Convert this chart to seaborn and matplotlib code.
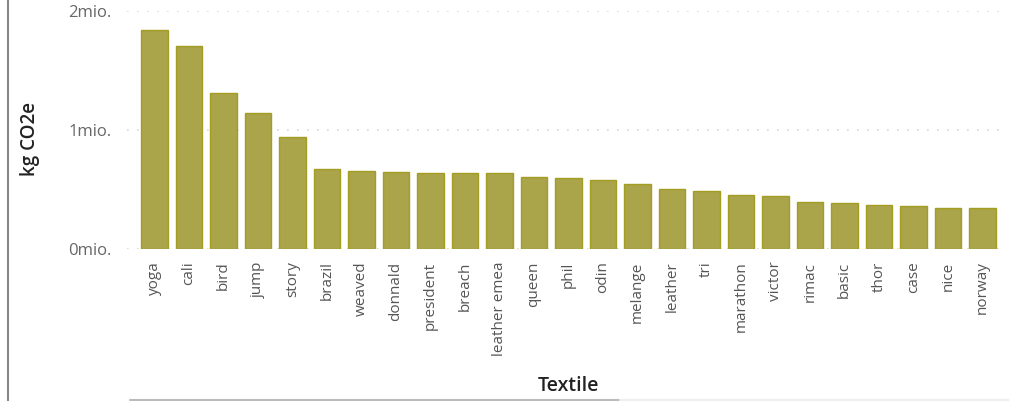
import matplotlib
matplotlib.use("Agg")
import matplotlib.pyplot as plt
from matplotlib.ticker import FuncFormatter
from matplotlib.lines import Line2D
import seaborn as sns
import pandas as pd

categories = ["yoga", "cali", "bird", "jump", "story", "brazil", "weaved", "donnald",
              "president", "breach", "leather emea", "queen", "phil", "odin", "melange",
              "leather", "tri", "marathon", "victor", "rimac", "basic", "thor", "case",
              "nice", "norway"]
values = [1.84, 1.70, 1.313, 1.143, 0.944, 0.672, 0.658, 0.644, 0.641, 0.639, 0.636,
          0.602, 0.599, 0.576, 0.544, 0.504, 0.485, 0.456, 0.445, 0.397, 0.389, 0.370,
          0.364, 0.347, 0.342]
yticks = [0, 1, 2]

df = pd.DataFrame({"Textile": categories, "kg CO2e": [v * 1e6 for v in values]})

sns.set_theme(style="white")
plt.rcParams['font.family'] = ['Open Sans', 'DejaVu Sans']

fig = plt.figure(figsize=(10.09, 4.01), dpi=100)
ax = fig.add_axes([127 / 1009, 1 - 249 / 401, (1005 - 127) / 1009, (249 - 10.7) / 401])

sns.barplot(data=df, x="Textile", y="kg CO2e", color="#AAA44B", saturation=1,
            width=0.76, edgecolor="#A39D22", linewidth=1.0, ax=ax)

ax.set_ylim(0, 2e6)
ax.set_xlim(-0.8, 24.65)
ax.set_yticks([t * 1e6 for t in yticks])
ax.yaxis.set_major_formatter(FuncFormatter(lambda v, p: f"{v / 1e6:.0f}mio."))
ax.grid(axis="y", color="#D8D8D8", linestyle=(0, (1, 5)), linewidth=1.2)
ax.set_axisbelow(True)
for s in ax.spines.values():
    s.set_visible(False)
ax.tick_params(axis="y", labelsize=12, labelcolor="#666666", length=0, pad=11)
ax.tick_params(axis="x", labelsize=11, labelcolor="#555555", length=0, pad=9)
for lbl in ax.get_xticklabels():
    lbl.set_rotation(90)
    lbl.set_va("top")
    lbl.set_ha("center")

ax.set_ylabel("kg CO2e", fontsize=13.5, fontweight="semibold", color="#222222")
ax.yaxis.set_label_coords(-(127 - 30) / (1005 - 127), (249 - 139) / (249 - 10.7))
ax.yaxis.label.set_va("center")
ax.set_xlabel("Textile", fontsize=14, fontweight="semibold", color="#222222")
ax.xaxis.set_label_coords((569 - 127) / (1005 - 127), -(376 - 249) / (249 - 10.7))
ax.xaxis.label.set_va("top")

fig.add_artist(Line2D([8 / 1009, 8 / 1009], [0, 1], color="#888888", linewidth=1.5))
fig.add_artist(Line2D([130 / 1009, 620 / 1009], [1.5 / 401, 1.5 / 401], color="#BBBBBB", linewidth=1.5))
fig.add_artist(Line2D([620 / 1009, 1009 / 1009], [1.5 / 401, 1.5 / 401], color="#EEEEEE", linewidth=1.5))

fig.savefig("out.png", dpi=100)
